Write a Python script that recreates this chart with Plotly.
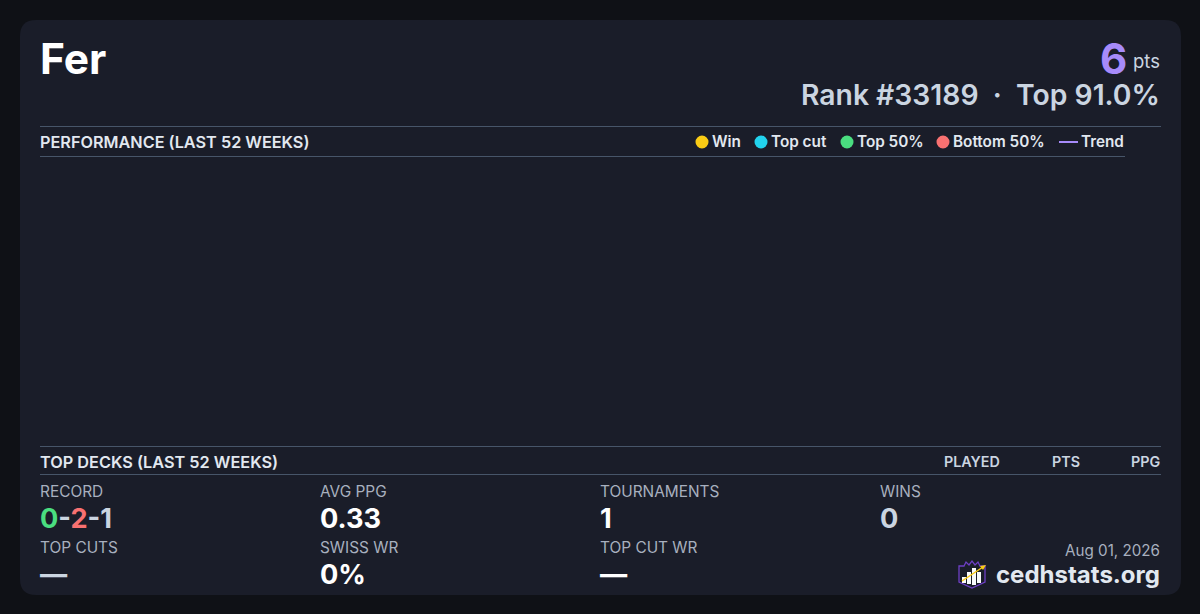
import plotly.graph_objects as go

# card text
player = "Fer"
points = "6"
rank_text = "Rank #33189  ·  Top 91.0%"
date_text = "Aug 01, 2026"
site = "cedhstats.org"

legend_names = ["Win", "Top cut", "Top 50%", "Bottom 50%"]
legend_colors = ["#facc15", "#22d3ee", "#4ade80", "#f87171"]
legend_dot_x = [702, 761, 847, 943]

deck_columns = ["PLAYED", "PTS", "PPG"]
deck_column_x = [1000, 1080, 1160]

top_labels = ["AVG PPG", "TOURNAMENTS", "WINS"]
top_values = ["0.33", "1", "0"]
bottom_labels = ["TOP CUTS", "SWISS WR", "TOP CUT WR"]
bottom_values = ["—", "0%", "—"]

BG = "#0f1116"
CARD = "#1a1d29"
RULE = "#475569"
W, H = 1200, 614

shapes = []
annotations = []


def text(x, y, s, size, color, weight=400, anchor="left"):
    # plotly pads annotation boxes by 1px on each side
    x = x - 1 if anchor == "left" else x + 1
    annotations.append(dict(
        x=x, y=y, xref="x", yref="y", text=s, showarrow=False,
        xanchor=anchor, yanchor="middle", align=anchor, borderpad=0,
        font=dict(family="Inter", size=size, color=color, weight=weight),
    ))


def rule(x0, x1, y):
    shapes.append(dict(type="line", x0=x0, x1=x1, y0=y, y1=y, xref="x", yref="y",
                       line=dict(color=RULE, width=1)))


# card background
shapes.append(dict(
    type="path", xref="x", yref="y", fillcolor=CARD, line=dict(width=0),
    path="M36,20 L1165,20 Q1181,20 1181,36 L1181,579 Q1181,595 1165,595 "
         "L36,595 Q20,595 20,579 L20,36 Q20,20 36,20 Z",
))

# header
text(40, 58, player, 42.5, "#ffffff", 700)
text(1127, 58, points, 42, "#a78bfa", 700, "right")
text(1159.5, 61, "pts", 18.5, "#cbd5e1", 400, "right")
text(1160, 95, rank_text, 28.3, "#cbd5e1", 600, "right")

# performance section, no results to plot for this player
rule(40, 1161, 126.5)
rule(40, 1125, 156.5)
text(40, 142, "PERFORMANCE (LAST 52 WEEKS)", 16.25, "#e2e8f0", 600)
for name, color, dot in zip(legend_names, legend_colors, legend_dot_x):
    shapes.append(dict(type="circle", xref="x", yref="y", fillcolor=color, line=dict(width=0),
                       x0=dot - 6.5, x1=dot + 6.5, y0=142 - 6.5, y1=142 + 6.5))
    text(dot + 10, 141.5, name, 15.3, "#e2e8f0", 600)
shapes.append(dict(type="line", xref="x", yref="y", x0=1059, x1=1078, y0=142, y1=142,
                   line=dict(color="#a78bfa", width=2)))
text(1081, 141.5, "Trend", 15.3, "#e2e8f0", 600)

# decks section
rule(40, 1161, 446.5)
rule(40, 1161, 474.5)
text(40, 462, "TOP DECKS (LAST 52 WEEKS)", 16.3, "#e2e8f0", 600)
for name, x in zip(deck_columns, deck_column_x):
    text(x, 461.5, name, 14.3, "#cbd5e1", 600, "right")

# stats
text(40, 491.5, "RECORD", 15.4, "#a8b0bf")
text(40, 518, '<span style="color:#4ade80">0</span>-<span style="color:#f87171">2</span>-1',
     27.2, "#cbd5e1", 700)
for x, label, value in zip([320, 600, 880], top_labels, top_values):
    text(x, 491.5, label, 15.4, "#a8b0bf")
    text(x, 518, value, 27.2, "#ffffff" if value != "0" else "#cbd5e1", 700)
for x, label, value in zip([40, 320, 600], bottom_labels, bottom_values):
    text(x, 547.5, label, 15.4, "#a8b0bf")
    text(x, 574, value, 27.2, "#ffffff" if x != 40 else "#cbd5e1", 700)

# footer
text(1160, 550, date_text, 15.2, "#a8b0bf", 400, "right")
text(1160, 574, site, 24, "#e2e8f0", 700, "right")

# logo
shapes.append(dict(
    type="path", xref="x", yref="y", line=dict(color="#6d3fc4", width=1.3),
    path="M959,566 L964,566 L966,562 L969,565 L972,561 L975,565 L978,562 L980,566 L985,566 "
         "L985,582 L972,588 L959,582 Z",
))
for x0, x1, y0, y1 in [(962, 966, 577, 583), (967, 971, 572, 584), (972, 976, 568, 585), (977, 981, 572, 583)]:
    shapes.append(dict(type="rect", xref="x", yref="y", fillcolor="#f8fafc", line=dict(width=0),
                       x0=x0, x1=x1, y0=y0, y1=y1))
shapes.append(dict(type="line", xref="x", yref="y", x0=962, x1=983, y0=581, y1=567,
                   line=dict(color="#facc15", width=1.5)))
shapes.append(dict(type="path", xref="x", yref="y", fillcolor="#facc15", line=dict(width=0),
                   path="M986,565 L980,566 L983,570 Z"))

fig = go.Figure()
fig.update_layout(
    width=W, height=H, autosize=False,
    margin=dict(l=0, r=0, t=0, b=0),
    paper_bgcolor=BG, plot_bgcolor=BG,
    showlegend=False,
    xaxis=dict(range=[0, W], visible=False, fixedrange=True),
    yaxis=dict(range=[H, 0], visible=False, fixedrange=True),
    shapes=shapes, annotations=annotations,
)
fig.write_html("out.html", config=dict(displayModeBar=False),
               post_script="document.body.style.margin='0';document.body.style.background='%s';"
                           "document.body.style.fontOpticalSizing='none';" % BG)
